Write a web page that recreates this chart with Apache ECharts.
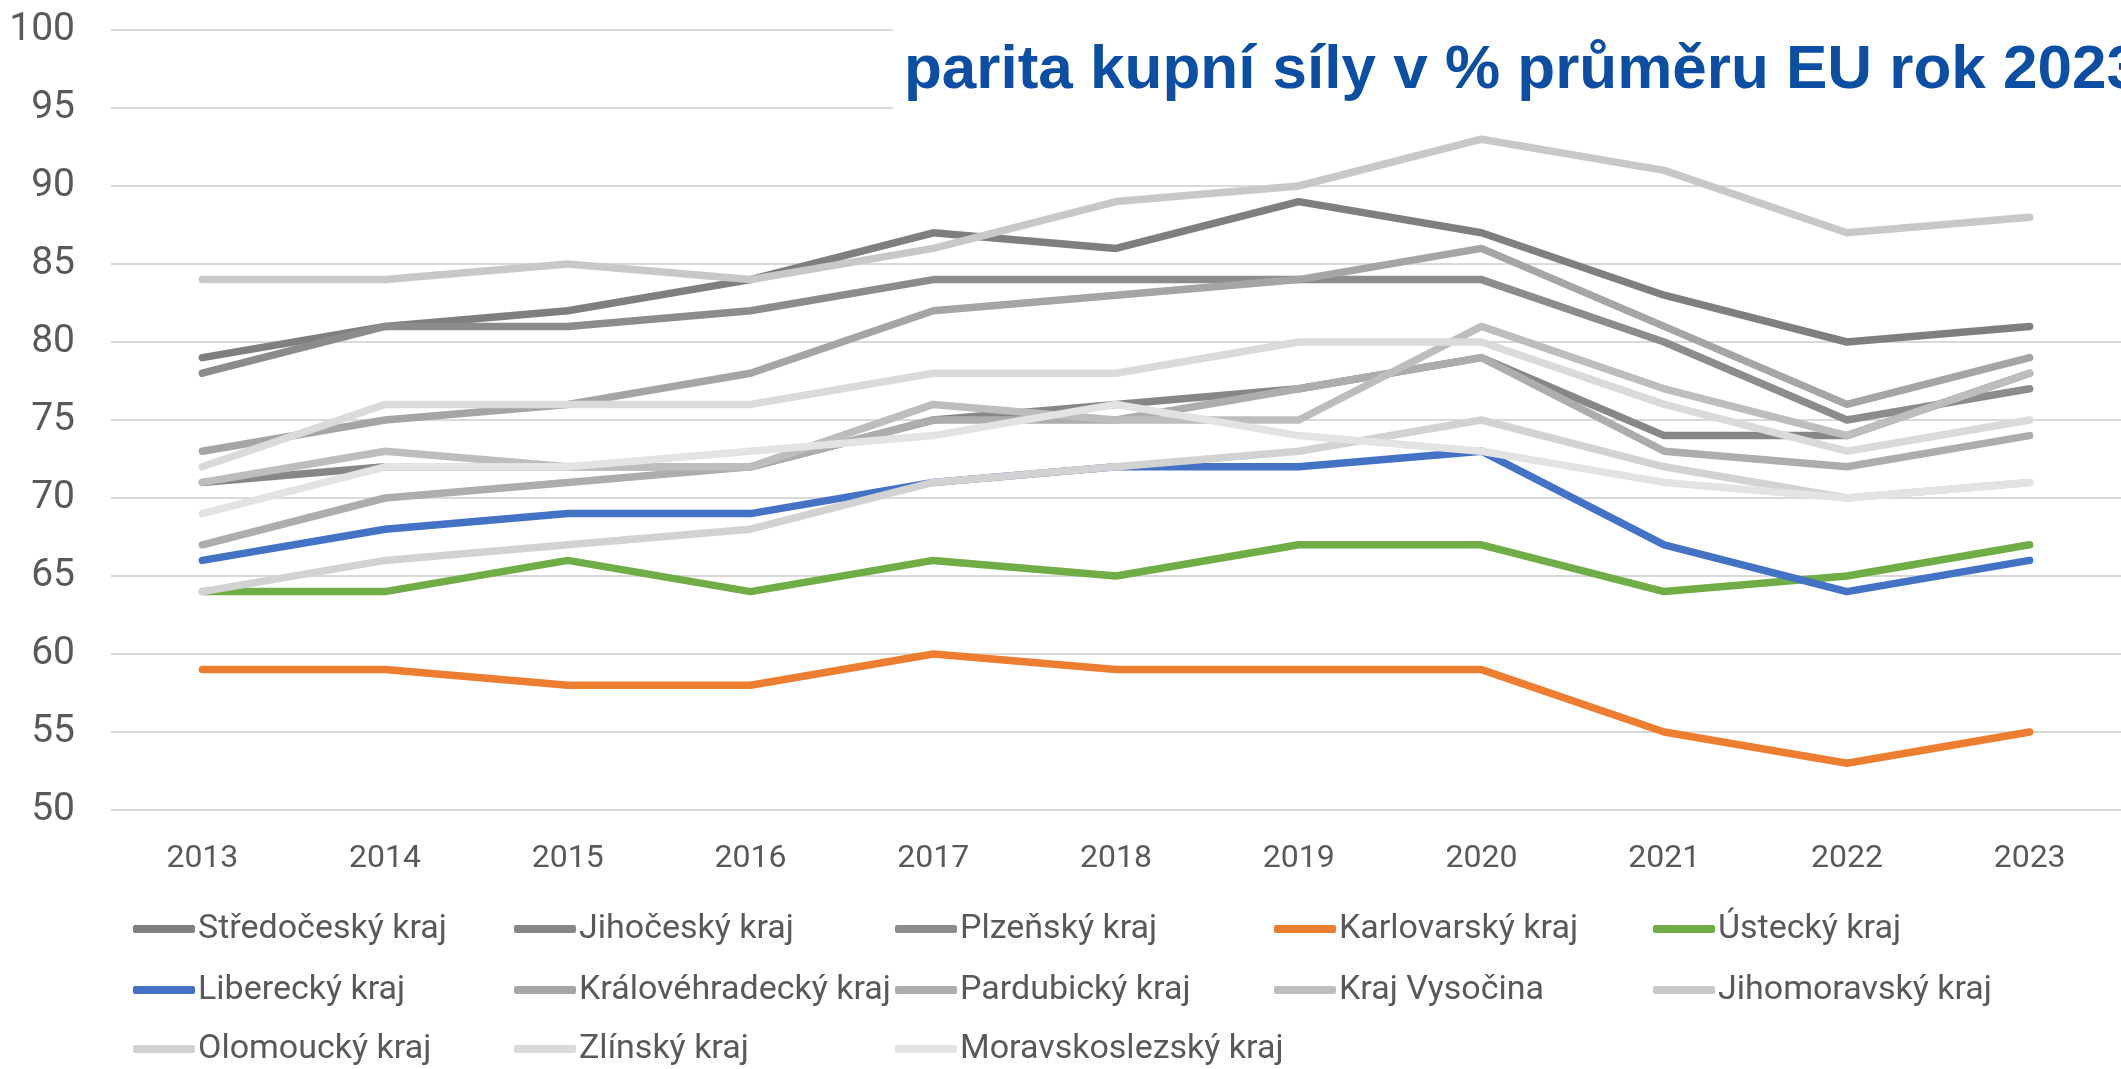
<!DOCTYPE html>
<html>
<head>
<meta charset="utf-8">
<script src="https://cdn.jsdelivr.net/npm/echarts@6/dist/echarts.min.js"></script>
<style>
html,body{margin:0;padding:0;background:#fff;}
#chart{width:2121px;height:1069px;}
</style>
</head>
<body>
<div id="chart"></div>
<script>
const years = ['2013','2014','2015','2016','2017','2018','2019','2020','2021','2022','2023'];
const titleText = 'parita kupní síly v % průměru EU rok 2023';

const seriesNames = ['Středočeský kraj','Jihočeský kraj','Plzeňský kraj','Karlovarský kraj','Ústecký kraj',
  'Liberecký kraj','Královéhradecký kraj','Pardubický kraj','Kraj Vysočina','Jihomoravský kraj',
  'Olomoucký kraj','Zlínský kraj','Moravskoslezský kraj'];

const stredocesky      = [79,81,82,84,87,86,89,87,83,80,81];
const jihocesky        = [71,72,72,72,75,76,77,79,74,74,78];
const plzensky         = [78,81,81,82,84,84,84,84,80,75,77];
const karlovarsky      = [59,59,58,58,60,59,59,59,55,53,55];
const ustecky          = [64,64,66,64,66,65,67,67,64,65,67];
const liberecky        = [66,68,69,69,71,72,72,73,67,64,66];
const kralovehradecky  = [73,75,76,78,82,83,84,86,81,76,79];
const pardubicky       = [67,70,71,72,75,75,77,79,73,72,74];
const vysocina         = [71,73,72,72,76,75,75,81,77,74,78];
const jihomoravsky     = [84,84,85,84,86,89,90,93,91,87,88];
const olomoucky        = [64,66,67,68,71,72,73,75,72,70,71];
const zlinsky          = [72,76,76,76,78,78,80,80,76,73,75];
const moravskoslezsky  = [69,72,72,73,74,76,74,73,71,70,71];

const seriesValues = [stredocesky, jihocesky, plzensky, karlovarsky, ustecky, liberecky,
  kralovehradecky, pardubicky, vysocina, jihomoravsky, olomoucky, zlinsky, moravskoslezsky];

const colors = ['#7f7f7f','#878787','#8c8c8c','#ED7D31','#70AD47','#4472C4',
  '#a5a5a5','#adadad','#bdbdbd','#c8c8c8','#d2d2d2','#dadada','#e3e3e3'];

const labelFont = 'Roboto, "Noto Sans", sans-serif';

const legendCols = [133, 514, 895, 1274, 1653];
const legendRows = [912, 973, 1032];

const chart = echarts.init(document.getElementById('chart'), null, {renderer:'canvas'});

const legends = seriesNames.map((n, i) => ({
  data: [n],
  left: legendCols[i % 5],
  top: legendRows[Math.floor(i / 5)],
  padding: 0,
  itemWidth: 62,
  itemHeight: 8,
  icon: 'roundRect',
  selectedMode: false,
  textStyle: {fontFamily: labelFont, fontSize: 34, color: '#595959', padding:[0,0,0,-2]}
}));

chart.setOption({
  animation: false,
  backgroundColor: '#ffffff',
  title: {
    text: titleText,
    left: 893,
    top: 0,
    padding: [40, 400, 28, 11],
    backgroundColor: '#ffffff',
    textStyle: {fontFamily: '"Liberation Sans","Noto Sans",sans-serif', fontWeight: 'bold', fontSize: 62, color: '#0b4ea4'}
  },
  grid: {left: 111, top: 30, width: 2016, height: 780, containLabel: false},
  legend: legends,
  xAxis: {
    type: 'category',
    data: years,
    boundaryGap: true,
    axisLine: {show: false},
    axisTick: {show: false},
    axisLabel: {fontFamily: labelFont, fontSize: 32, color: '#595959', margin: 33}
  },
  yAxis: {
    type: 'value',
    min: 50, max: 100, interval: 5,
    axisLine: {show: false},
    axisTick: {show: false},
    splitLine: {lineStyle: {color: '#d9d9d9', width: 2}},
    axisLabel: {fontFamily: labelFont, fontSize: 39, color: '#595959', margin: 36}
  },
  series: seriesNames.map((n, i) => ({
    name: n,
    type: 'line',
    data: seriesValues[i],
    symbol: 'none',
    color: colors[i],
    lineStyle: {width: 7.5, color: colors[i], cap: 'round', join: 'round'},
    z: 2
  }))
});
</script>
</body>
</html>
